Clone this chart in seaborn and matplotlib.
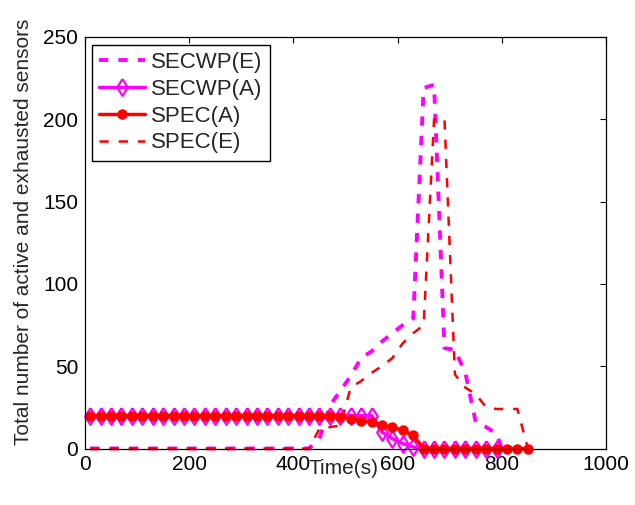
import matplotlib
matplotlib.use("Agg")
import matplotlib.pyplot as plt
import seaborn as sns

# ---- data ----
time_spec = [10, 30, 50, 70, 90, 110, 130, 150, 170, 190, 210, 230, 250, 270, 290,
             310, 330, 350, 370, 390, 410, 430, 450, 470, 490, 510, 530, 550, 570,
             590, 610, 630, 650, 670, 690, 710, 730, 750, 770, 790, 810, 830, 850]
spec_a = [20, 20, 20, 20, 20, 20, 20, 20, 20, 20, 20, 20, 20, 20, 20,
          20, 20, 20, 20, 20, 20, 20, 20, 20, 19, 18, 17, 16, 14,
          13, 11, 8, 0, 0, 0, 0, 0, 0, 0, 0, 0, 0, 0]
spec_e = [0, 0, 0, 0, 0, 0, 0, 0, 0, 0, 0, 0, 0, 0, 0,
          0, 0, 0, 0, 0, 0, 0, 12, 13, 14, 37, 41, 46, 50,
          55, 64, 70, 75, 200, 200, 45, 37, 33, 25, 24, 24, 24, 0]

time_secwp_a = [10, 30, 50, 70, 90, 110, 130, 150, 170, 190, 210, 230, 250, 270, 290,
                310, 330, 350, 370, 390, 410, 430, 450, 470, 490, 510, 530, 550, 570,
                590, 610, 630, 650, 670, 690, 710, 730, 750, 770, 790]
secwp_a = [20, 20, 20, 20, 20, 20, 20, 20, 20, 20, 20, 20, 20, 20, 20,
           20, 20, 20, 20, 20, 20, 20, 20, 20, 20, 20, 20, 20, 10,
           6, 3, 1, 0, 0, 0, 0, 0, 0, 0, 0]

time_secwp_e = [10, 30, 50, 70, 90, 110, 130, 150, 170, 190, 210, 230, 250, 270, 290,
                310, 330, 350, 370, 390, 410, 430, 450, 470, 490, 510, 530, 550, 570,
                590, 610, 630, 650, 670, 690, 710, 730, 750, 770, 790, 800]
secwp_e = [0, 0, 0, 0, 0, 0, 0, 0, 0, 0, 0, 0, 0, 0, 0,
           0, 0, 0, 0, 0, 0, 0, 6, 26, 35, 44, 55, 59, 65,
           70, 75, 79, 219, 221, 61, 60, 46, 16, 13, 9, 0]

x_ticks = [0, 200, 400, 600, 800, 1000]
y_ticks = [0, 50, 100, 150, 200, 250]

# ---- style ----
sns.set_style("white")
plt.rcParams['font.family'] = ['Liberation Sans', 'DejaVu Sans']
plt.rcParams['font.size'] = 15

MAG = '#FF00FF'
RED = '#FF0000'
DIAMOND = [(0, 1), (0.64, 0), (0, -1), (-0.64, 0), (0, 1)]

fig = plt.figure(figsize=(6.35, 5.05), dpi=100)
ax = fig.add_axes([85 / 635, 1 - 448.5 / 505, 521 / 635, 411.5 / 505])

common = dict(ax=ax, estimator=None, sort=False, errorbar=None, clip_on=False)

sns.lineplot(x=time_secwp_e, y=secwp_e, color=MAG, linewidth=2.8,
             linestyle=(0, (2.4, 2.6)), label='SECWP(E)', **common)
sns.lineplot(x=time_secwp_a, y=secwp_a, color=MAG, linewidth=2.5,
             marker=DIAMOND, markersize=12, markerfacecolor='none',
             markeredgecolor=MAG, markeredgewidth=1.6, label='SECWP(A)', **common)
sns.lineplot(x=time_spec, y=spec_a, color=RED, linewidth=2.5,
             marker='o', markersize=6.5, markerfacecolor=RED,
             markeredgecolor=RED, markeredgewidth=1.0, label='SPEC(A)', **common)
sns.lineplot(x=time_spec, y=spec_e, color=RED, linewidth=1.8,
             linestyle=(0, (3.7, 4.0)), label='SPEC(E)', **common)

ax.set_xlim(0, 1000)
ax.set_ylim(0, 250)
ax.set_xticks(x_ticks)
ax.set_yticks(y_ticks)
ax.tick_params(direction='in', top=True, right=True, length=4, width=0.8,
               labelsize=15, colors='black')
ax.tick_params(axis='x', pad=5)
ax.tick_params(axis='y', pad=5)
for s in ax.spines.values():
    s.set_visible(True)
    s.set_color('black')
    s.set_linewidth(0.9)

ax.set_xlabel('Time(s)', fontsize=15)
ax.xaxis.set_label_coords(0.497, -0.026)
ax.set_ylabel('Total number of active and exhausted sensors', fontsize=15)
ax.yaxis.set_label_coords(-0.1, 0.526)

leg = ax.legend(loc='upper left', bbox_to_anchor=(0.0134, 0.9805), borderaxespad=0,
                frameon=True, fancybox=False, edgecolor='black', framealpha=1,
                handlelength=2.07, handletextpad=0.27, labelspacing=0.26,
                borderpad=0.32, fontsize=16)
leg.get_frame().set_linewidth(1.0)

fig.savefig('out.png', dpi=100)
